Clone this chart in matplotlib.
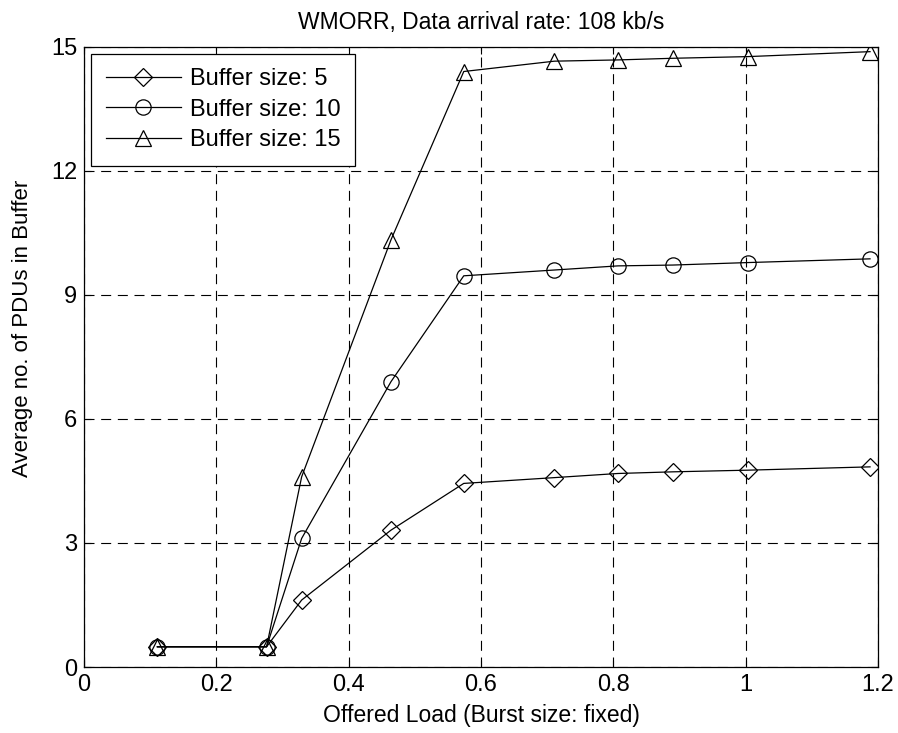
import matplotlib
matplotlib.use("Agg")
import matplotlib.pyplot as plt

# offered load values (x)
load = [0.111, 0.276, 0.329, 0.464, 0.574, 0.711, 0.807, 0.890, 1.003, 1.188]

# average number of PDUs in buffer, per buffer size
buf5 = [0.49, 0.49, 1.62, 3.31, 4.44, 4.58, 4.68, 4.72, 4.76, 4.84]
buf10 = [0.49, 0.49, 3.11, 6.90, 9.46, 9.60, 9.70, 9.72, 9.78, 9.87]
buf15 = [0.49, 0.49, 4.60, 10.33, 14.40, 14.65, 14.68, 14.72, 14.76, 14.88]

labels = ["Buffer size: 5", "Buffer size: 10", "Buffer size: 15"]
xticks = [0, 0.2, 0.4, 0.6, 0.8, 1.0, 1.2]
xticklabels = ["0", "0.2", "0.4", "0.6", "0.8", "1", "1.2"]
yticks = [0, 3, 6, 9, 12, 15]

plt.rcParams['font.family'] = ['Liberation Sans', 'DejaVu Sans']

fig = plt.figure(figsize=(8.98, 7.33), dpi=100)
ax = fig.add_axes([0.0935, 0.090, 0.8842, 0.8463])

style = dict(color='black', linewidth=0.9, markersize=11,
             markerfacecolor='none', markeredgecolor='black',
             markeredgewidth=0.9)
ax.plot(load, buf5, marker='D', label=labels[0], **{**style, 'markersize': 9})
ax.plot(load, buf10, marker='o', label=labels[1], **style)
ax.plot(load, buf15, marker='^', label=labels[2], **style)

ax.set_xlim(0, 1.2)
ax.set_ylim(0, 15)
ax.set_xticks(xticks)
ax.set_xticklabels(xticklabels)
ax.set_yticks(yticks)
ax.tick_params(direction='in', top=True, right=True, labelsize=17,
               length=5, width=0.8, pad=5)
ax.grid(True, color='black', linestyle=(0, (9, 6)), linewidth=0.8)
for s in ax.spines.values():
    s.set_linewidth(0.9)

ax.set_title("WMORR, Data arrival rate: 108 kb/s", fontsize=16.5, pad=13)
ax.set_xlabel("Offered Load (Burst size: fixed)", fontsize=16.5, labelpad=6)
ax.set_ylabel("Average no. of PDUs in Buffer", fontsize=16)
ax.yaxis.set_label_coords(-0.064, 0.5465)

leg = ax.legend(loc='upper left', fontsize=17, handlelength=3.18,
                fancybox=False, framealpha=1, edgecolor='black',
                borderaxespad=0.3, labelspacing=0.35, handletextpad=0.38,
                borderpad=0.62)
leg.get_frame().set_linewidth(0.9)

fig.savefig("out.png", dpi=100)
